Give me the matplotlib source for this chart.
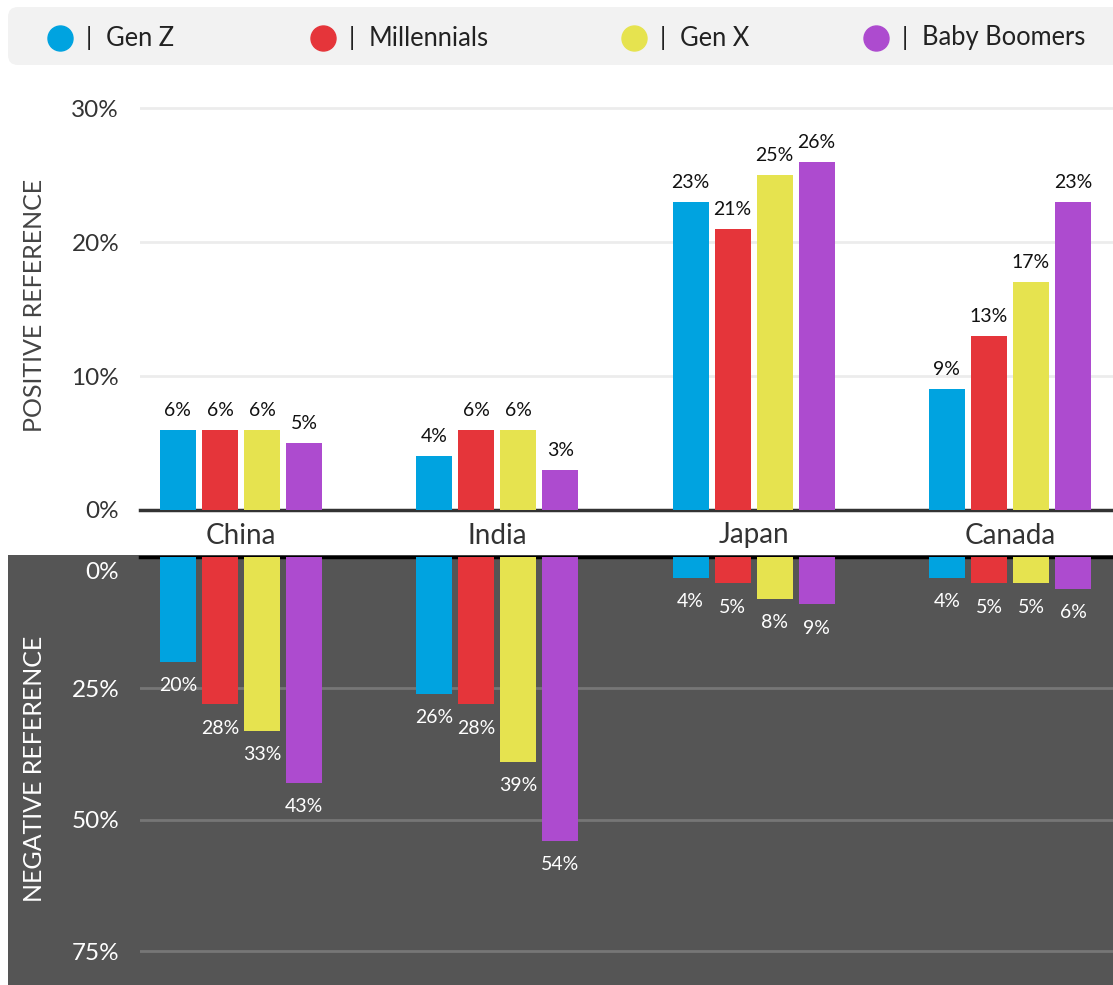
import numpy as np
import matplotlib as mpl
mpl.use('Agg')
from matplotlib import pyplot as plt
from matplotlib.patches import Rectangle, FancyBboxPatch
from matplotlib.lines import Line2D
from matplotlib.transforms import ScaledTranslation

plt.rcParams['font.family'] = ['Lato', 'DejaVu Sans']

countries = ['China', 'India', 'Japan', 'Canada']
generations = ['Gen Z', 'Millennials', 'Gen X', 'Baby Boomers']
colors = ['#00a3e0', '#e5353a', '#e6e34f', '#ad4bcf']

# share of positive / negative reference, per generation, per country
positive = {
    'Gen Z':        [6, 4, 23, 9],
    'Millennials':  [6, 6, 21, 13],
    'Gen X':        [6, 6, 25, 17],
    'Baby Boomers': [5, 3, 26, 23],
}
negative = {
    'Gen Z':        [20, 26, 4, 4],
    'Millennials':  [28, 28, 5, 5],
    'Gen X':        [33, 39, 8, 5],
    'Baby Boomers': [43, 54, 9, 6],
}
pos_ticks = [0, 10, 20, 30]
neg_ticks = [0, 25, 50, 75]

W, H = 1113, 985
fig = plt.figure(figsize=(W / 100, H / 100), dpi=100)
fig.patch.set_facecolor('white')

# dark area behind the negative panel
fig.add_artist(Rectangle((8 / W, 0), 1 - 8 / W, (H - 555) / H,
                         transform=fig.transFigure, facecolor='#555555',
                         edgecolor='none', zorder=0))

# legend band
fig.add_artist(FancyBboxPatch((0.08, (H - 65) / 100), 11.3, 0.58,
                              boxstyle='round,pad=0,rounding_size=0.1',
                              transform=fig.dpi_scale_trans,
                              facecolor='#f2f2f2', edgecolor='none', zorder=0))
leg_x = [60, 323, 634, 876]
for gx, name, col in zip(leg_x, generations, colors):
    fig.add_artist(Line2D([gx / W], [1 - 38 / H], marker='o', markersize=18,
                          color=col, linestyle='none', transform=fig.transFigure))
    fig.text((gx + 29) / W, 1 - 38 / H, '|', fontsize=18, color='#222222',
             ha='center', va='center')
    fig.text((gx + 46) / W, 1 - 38 / H, name, fontsize=18.4, color='#222222',
             ha='left', va='center')

x = np.arange(len(countries))
step = 0.164
width = 0.1405
xlim = (-0.394, 3.402)

ax = fig.add_axes([140 / W, 1 - 510 / H, 973 / W, 430 / H])
axn = fig.add_axes([140 / W, 0, 973 / W, 428 / H])
for a in (ax, axn):
    a.set_facecolor('none')
    a.set_xlim(*xlim)
    for s in ('top', 'right', 'left'):
        a.spines[s].set_visible(False)

# positive panel
for i, (name, col) in enumerate(zip(generations, colors)):
    xs = x + (i - 1.5) * step
    vals = positive[name]
    ax.bar(xs, vals, width, color=col, zorder=3)
    for xi, v in zip(xs, vals):
        ax.annotate(f'{v}%', (xi, v), xytext=(0, 8), textcoords='offset points',
                    ha='center', va='bottom', fontsize=14, color='#111111')
ax.set_ylim(0, 32.1)
ax.set_yticks(pos_ticks, [f'{t}%' for t in pos_ticks])
ax.grid(axis='y', color='#ececec', linewidth=2, zorder=0)
ax.spines['bottom'].set_color('#333333')
ax.spines['bottom'].set_linewidth(2.5)
ax.tick_params(axis='y', length=0, pad=15, labelsize=17.5, labelcolor='#333333')
ax.set_xticks(x, countries)
ax.tick_params(axis='x', length=0, pad=9, labelsize=20, labelcolor='#333333')

# negative panel
for i, (name, col) in enumerate(zip(generations, colors)):
    xs = x + (i - 1.5) * step
    vals = negative[name]
    axn.bar(xs, vals, width, color=col, zorder=3)
    for xi, v in zip(xs, vals):
        axn.annotate(f'{v}%', (xi, v), xytext=(0, -11), textcoords='offset points',
                     ha='center', va='top', fontsize=14, color='white')
axn.set_ylim(81.4, 0)
axn.set_yticks(neg_ticks, [f'{t}%' for t in neg_ticks])
axn.grid(axis='y', color='#767676', linewidth=2, zorder=0)
axn.spines['bottom'].set_visible(False)
axn.spines['top'].set_visible(True)
axn.spines['top'].set_color('black')
axn.spines['top'].set_linewidth(2.5)
axn.set_xticks([])
axn.tick_params(axis='y', length=0, pad=15, labelsize=17.5, labelcolor='white')
zero_lab = axn.get_yticklabels()[0]
zero_lab.set_va('top')
zero_lab.set_transform(zero_lab.get_transform()
                       + ScaledTranslation(0, -0.05, fig.dpi_scale_trans))

fig.text(35 / W, 1 - 305 / H, 'POSITIVE REFERENCE', rotation=90, fontsize=18,
         color='#444444', ha='center', va='center')
fig.text(35 / W, 1 - 769 / H, 'NEGATIVE REFERENCE', rotation=90, fontsize=18,
         color='white', ha='center', va='center')

fig.savefig('out.png', dpi=100)
